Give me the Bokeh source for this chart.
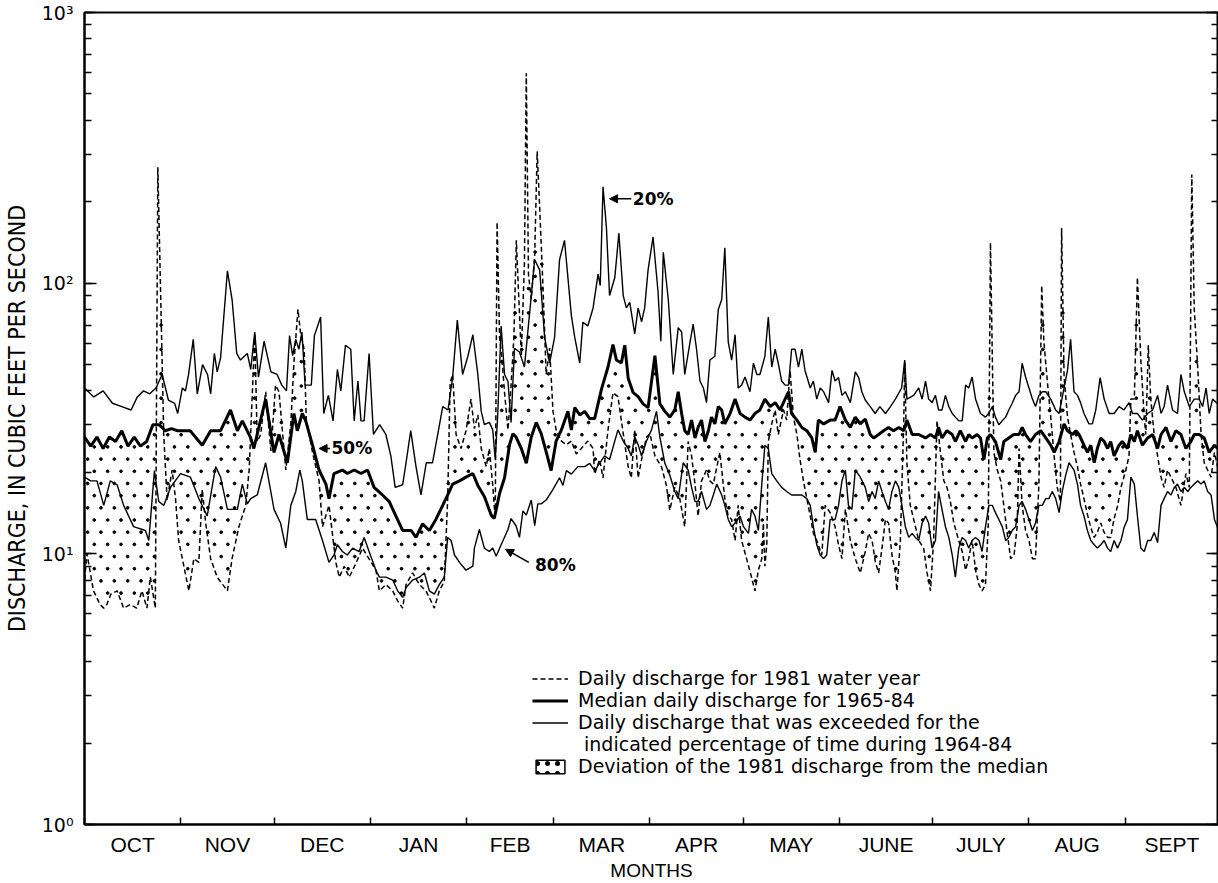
import numpy as np
from bokeh.plotting import figure
from bokeh.models import (FixedTicker, LinearAxis, LogAxis, LogTicker, Legend, LegendItem,
                          Arrow, NormalHead, Label, Range1d)
from bokeh.embed import file_html
from bokeh.resources import INLINE

# ---------------- data (day of water year, discharge in ft3/s) ----------------
MONTH_NAMES = ["OCT", "NOV", "DEC", "JAN", "FEB", "MAR", "APR", "MAY", "JUNE", "JULY", "AUG", "SEPT"]
MONTH_BOUNDS = [0, 31, 61, 92, 123, 151, 182, 212, 243, 273, 304, 335, 365]

# 20 % exceedance daily discharge, 1964-84
P20 = [(0,41),(3,38),(6,40),(9,36),(12,35),(15,34),(17,38),(19,40),(21,39),(23,41),(25,46),(27,37),(29,36),(30,33),
       (31.5,41),(32.5,40),(33.5,46),(35,62),(36.3,39),(38,50),(39.6,46),(40.6,39),(41.8,55),(42.7,47),(43.8,53),(46,111),
       (47.5,87),(49,55),(50.2,52),(52.4,55),(53.5,48),(54.8,66),(56,45),(57.8,61),(60,47),(62,46),
       (63.5,42),(65,40),(66,64),(67,54),(68,62),(69,57),(70,66),(71,42),(73,42),(74,64),(76,75),(77,33),(78.5,38.5),
       (80,31),(81.4,48),(82.5,40),(84,59),(85.7,57),(86.8,31),(88,43.5),(89,31),(90,31),(91.6,55),(93,27.6),(95,30),
       (97,27.6),(98.6,23),(100,17.6),(102.4,18),(103.5,21.7),(105,28.5),(106.7,21),(108.3,16.5),(110,21.7),(112,21.7),
       (113.7,27.6),(115.3,35),(117,34),(118.5,45),(120,73),(121.7,46),(123.4,53.7),(125,64.5),
       (126.6,46),(127.7,33.6),(128.7,30),(130.3,30.6),(131.4,28.7),(132.2,22.3),(133,32.6),(134.1,69.5),(135.2,46),
       (136.3,43.3),(137.3,30.6),(138.4,57.5),(140,55.7),(141.6,49),(143.2,76),(144.9,122),(146.5,112),(148.1,63),
       (149.7,50.7),(151.3,63),(152.9,122),(154.5,144),(156.7,76),(157.8,63),(159.4,50.7),(160.4,71.7),(162,69.5),
       (163.7,81),(165.3,108),(166,98),(166.9,227),(168,160),(169,90),(170.7,105),(172,153),(173.4,90),(174.4,81),
       (175.5,85),(177.1,65),(178.2,81),(179.3,72),(180.3,81),(181.4,112),(183,148),(184.6,93),(185.5,61),(186.3,130),
       (187.9,87),(189.5,46),(191.1,68.5),(192.2,66),(193.2,46),(194.9,60.6),(195.9,70.6),(197,57),(198.1,43.5),
       (199.2,41),(200.2,36.2),(201.3,52),(202.9,53.7),(204,80),(205.1,87),(206.1,135),(207.2,60.6),(208.3,52),
       (209.4,64.5),(210.4,41),(211.5,42),(212.6,45),(214.2,39.7),(215.3,50.6),(216.4,46),(217.4,46),(219,53.7),
       (220.1,75),(221.2,49),(222.3,57),(223.3,50.6),(224.4,43.5),(225.5,42),(226.6,42),(227.6,57),(228.7,57),
       (229.8,49),(230.9,57),(231.9,47.6),(233.6,41),(234.6,43.5),(235.7,37.3),(236.8,41),(237.9,39.7),(239.5,36.2),
       (240.6,47.6),(241.6,43.5),(242.7,44.8),(243.8,38.5),(244.9,39.7),(246.5,36.2),(248.1,47),(249.2,44.8),
       (250.2,39.7),(251.3,37),(252.9,35),(254.5,33),(256,35),(257.8,33),(259.4,35),(261,37.3),(263,41),(264,52),
       (264.7,37.3),(266.9,38.5),(268.5,41),(269.6,37.3),(270.7,43.5),(271.7,37.3),(272.8,36.2),(273.9,38.5),(274.9,34),
       (276,34),(277.1,38.5),(278.2,35),(279.3,33),(280.3,32),(281.4,31),(282.5,31),(283.6,42),(284.6,41),(285.7,45),
       (286.8,37.3),(288.4,33),(290,32),(291,33),(292.2,35),(293.2,32),(294.3,30),(295.4,31),(296.5,32),(297.5,34),
       (298.6,36),(299.7,38.5),(300.8,39.7),(301.8,50.6),(302.9,45),(304,41),(305.1,37.3),(306.1,35),(307.2,38.5),
       (308.3,39.7),(309.4,39.7),(311,37.3),(312.6,34),(313.7,33),(315.3,41),(316.4,47.6),(317.4,62),(318.5,39.7),
       (319.6,38.5),(320.6,36.2),(321.7,33),(323.3,30.2),(324.4,30.2),(325.5,34),(326.9,44.8),(328.2,37.3),(329.8,33),
       (331.4,33),(333,35),(334.6,34),(336.2,36.2),(337.3,33),(338.9,33),(340.5,31.2),(342.2,33),(343.8,34),
       (345.4,38.5),(346.5,33),(347.5,35),(348.6,42),(350.2,34),(351.8,33),(352.9,46),(354,39.7),(355.6,35),
       (357.2,37.3),(358.8,37.3),(359.9,35),(361,41),(362,33),(363.1,37.3),(364.5,36)]

# median daily discharge, 1965-84
MEDIAN = [(0,27),(2,25),(4,27),(6,24.5),(8,27),(10,26),(12,28.5),(14,25),(16,27),(18,25),(20,26),(22,30),(24,30),
          (26,28.5),(28,29),(30,28.5),(32,28.5),(34,28.5),(37.9,25.2),(40.6,28.5),(43.8,28.5),(47,34),(49.2,28.5),
          (50.8,31),(53.5,26.8),(54.5,24.5),(58.3,37.3),(61,23.7),(62.6,27.6),(65.3,21.7),(67.4,33),(68.5,28.5),
          (70.1,33),(71.2,31),(73.4,25.2),(75.5,20.4),(77.7,18.1),(78.7,16),(80.3,19.8),(83,20.4),(84.6,19.8),
          (86.8,20.4),(89,19.8),(91.1,20.4),(93.2,17.6),(95.9,16.5),(98.1,15.6),(100.2,13.8),(102.4,12.2),(105.1,12.2),
          (106.7,11.5),(108.8,12.9),(111,12.2),(113.1,13.4),(115.3,15.1),(116.9,16.5),(118.5,18.1),(120.7,18.6),
          (122.8,19.2),(125,19.8),(126.6,17.9),(128.7,16.3),(130.9,13.9),(131.9,13.5),(133.6,16.7),(135.2,19.1),
          (136.8,25.3),(137.9,27.8),(138.9,27),(140.6,24.5),(142.2,21.6),(143.8,27),(145.4,30.6),(147,27.8),
          (148.6,23.8),(150.2,20.3),(151.8,26.1),(153.5,28.7),(155.6,33.6),(156.7,28.7),(157.8,34.7),(159.4,32.6),
          (161,33.6),(162.6,31.6),(164.2,31.6),(166.4,40.6),(168.5,49),(170.1,59.3),(171.2,52),(172.8,50.7),(173.9,59),
          (175,44.5),(176.6,39.4),(178.2,38.1),(179.8,35.8),(181.4,34.7),(183.6,54),(185.2,35.8),(186.8,33.6),(188.4,32),
          (190,34),(191.1,39.7),(192.2,33),(193.2,28.5),(194.3,27.6),(195.4,31.2),(196.5,26.8),(197.5,29.3),(198.6,31.2),
          (199.7,26),(200.8,28.5),(201.8,32),(202.9,30.2),(204,35),(205.1,34),(206.1,30.2),(207.8,33),(209.4,37.3),
          (211,33),(212.6,32),(214.2,31.2),(215.8,33),(217.4,34),(219,37.3),(220.7,35),(222.3,36.2),(223.9,34),
          (225.5,37.3),(226.6,39.7),(227.6,33),(229.3,31.2),(230.9,29.3),(232.5,28.5),(234.1,26.8),(235.2,23.7),
          (236.2,31.2),(237.9,30.2),(240,31.2),(241.6,31.2),(243.2,35),(244.9,31.2),(246.5,29.3),(248.1,32),(249.7,30.2),
          (251.3,31.5),(252.9,27.6),(254,26.8),(255.6,27.6),(257.2,28.5),(258.8,29.3),(260.4,28.5),(262.1,29.3),
          (263.7,28.5),(264.7,31.2),(266.4,27.6),(268.5,27.6),(270.7,26.8),(272.3,27.6),(273.9,26.8),(274.9,29.3),
          (276,26.8),(277.6,28.5),(279.3,27.6),(280.3,26),(281.9,28.5),(283.6,26),(284.6,27.6),(285.7,26.8),(287.3,27.6),
          (288.4,26.8),(289.5,22.3),(290.6,26.8),(291.6,27.6),(293.2,26),(294.9,22.3),(295.9,26),(297.5,26.8),
          (299.1,27.6),(300.8,27.6),(301.8,29.3),(302.9,27.6),(304.5,26),(306.1,27.6),(307.8,28.5),(309.4,26.8),
          (311,25.2),(312.1,23.7),(313.7,26),(315.3,30.2),(316.4,28.5),(318,27.6),(319.1,28.5),(320.1,27.6),(321.7,25.2),
          (322.8,23.7),(323.9,25.2),(325,21.7),(326,24.5),(327.1,26.8),(328.2,26),(329.3,24.5),(330.3,26),(331.4,23),
          (333,25.2),(334,26),(335.7,24.5),(336.8,27.6),(337.9,26),(338.9,28.5),(340.5,25.2),(342.2,26.8),(343.8,27.6),
          (345.4,24.5),(346.5,27.6),(348.1,29.3),(349.7,26),(351.3,28.5),(352.9,27.6),(354.5,24.5),(356.1,26),
          (357.2,27.6),(358.8,27.6),(360.4,26.8),(362,23.7),(363.7,25.2),(364.7,24.5)]

# daily discharge, 1981 water year
WY1981 = [(0,8),(0.8,10),(2.9,7.3),(5,6.5),(6.2,6.3),(7.2,6.5),(8.5,7.1),(10.5,7.3),(12.6,6.3),(14.7,6.5),(16.8,6.3),
          (18.5,7.3),(20.1,6.3),(21.2,8.2),(22.8,6.3),(23.6,268),(25,50.6),(25.5,27.6),(26.6,15.8),(28.2,20.4),(29.3,16),
          (30.3,11.2),(33.6,7.3),(35.2,9.6),(36.8,9.3),(37.9,17.3),(39,13),(40.6,9.6),(42.7,8.2),(46,7.3),(47.5,9.6),
          (49.7,12.6),(51.9,15.1),(53,20.4),(54.8,64.5),(55.6,26),(56.7,27.6),(58.3,39.7),(60,24),(61.5,42),(62.6,39.7),
          (64.8,20.4),(66.4,30.2),(67.4,50.6),(68.7,80),(69.6,64.5),(70.7,57),(71.4,31.2),(72.3,27.6),(73.4,23.7),
          (75.5,18.6),(76.6,12.6),(78.7,15.1),(80.9,9.3),(82,8.2),(83.6,9),(85.2,8.2),(87.3,9.2),(89.5,10.5),(91.8,9.5),
          (93.8,8.7),(94.9,7.3),(97,7.7),(99.2,7.3),(100.8,6.7),(102.4,6.3),(103.5,7.7),(105.6,8.5),(107.8,7.7),
          (109.9,7.3),(111.5,6.7),(112.6,6.3),(114.2,7.3),(115.8,7.9),(116.9,16),(117.7,43),(118.5,46),(119.6,27.6),
          (121.2,24.5),(122.8,28.5),(124.4,37.3),(125.5,29),(126.6,32.6),(127.7,24.5),(129.3,21),(130.3,24.5),
          (131.4,17.9),(132.2,13.5),(132.8,168),(133.6,63),(134.3,54),(135.2,39.4),(136.3,28.7),(137.3,41.9),(138.2,63),
          (139,144),(139.5,105),(140.6,54),(141.6,119),(142.2,596),(142.9,108),(143.8,87),(144.9,127),(145.7,307),
          (146.5,191),(147.5,101.6),(148.6,46),(149.7,57.5),(150.8,33.6),(151.8,28.7),(153.5,26.1),(155.1,25.3),
          (156.7,26.1),(158.3,23.4),(159.9,24.5),(162,26.1),(163.7,24.5),(164.2,19.7),(165.8,22.3),(166.9,19.1),
          (168.5,28.7),(170.1,39.4),(171.7,38.1),(173.4,27.8),(175,21),(176,19.1),(177.1,28.7),(178.2,19.1),(179.3,22.3),
          (180.9,27),(182,27.8),(183.6,23),(185.7,21),(187.3,17.9),(188.4,14.5),(190,17.6),(191.6,16),(193.2,12.6),
          (194.3,26),(195.4,23),(196.5,18.1),(197.5,13.8),(198.6,18.6),(200.2,20.4),(201.3,18.6),(202.4,18.1),
          (204.5,23.7),(206.1,16),(207.2,13.8),(208.3,13.4),(209.4,11.2),(210.4,15.1),(211.5,11.2),(213.1,9.6),
          (214.7,8.2),(215.8,7.3),(216.9,8.7),(218,9.6),(218.5,13),(219,9),(219.6,10.8),(220.1,26),(221.2,30.2),
          (222.3,34),(223.3,27.6),(225,34),(226,31.2),(227.1,47.6),(228.2,32),(229.3,27.6),(230.3,22.3),(231.4,18.6),
          (232.5,16),(233.6,13.8),(234.6,11.9),(235.7,11.2),(237.3,9.9),(238.4,15.1),(240,14.2),(241.6,12.6),(242.7,10.8),
          (243.8,9.6),(244.9,14.6),(246.5,11.2),(248.1,9.6),(249.7,8.5),(251.3,10.2),(252.4,11.9),(253.5,11.2),
          (254.5,9.4),(255.6,8.5),(256.7,10.5),(257.8,13.4),(258.8,13),(259.9,9.9),(261,8.5),(261.5,7.3),(262.6,11.2),
          (263.7,31),(264,51),(264.7,21.7),(265.8,15.1),(266.9,13.4),(268.5,11.2),(270.1,10.5),(271.2,8.5),(272.3,7.3),
          (273.3,11.2),(274.4,31),(275.5,23.7),(276.6,18.6),(277.6,17.6),(278.7,15.6),(279.8,13),(281.4,11.2),
          (282.5,10.2),(283.6,8.7),(284.6,9.6),(285.7,11.2),(286.8,8.7),(287.9,7.7),(288.9,7.3),(290,7.7),(290.9,12.9),
          (291.6,141),(292.7,23.7),(293.8,20.4),(294.9,18.6),(295.9,15.1),(297,11.9),(298.1,9.6),(299.2,9.9),
          (300.2,12.6),(300.8,24.5),(301.8,15.1),(302.9,12.2),(304,11.2),(305.1,9.6),(306.1,9.6),(307.2,18.1),(308.1,98),
          (308.8,60.6),(309.9,43.5),(311,32),(312.1,23),(313.1,17.6),(314.1,15.6),(314.5,160),(315.3,45),(316.4,32),
          (317.4,27.6),(318.5,23.7),(319.6,21),(320.6,18.1),(321.7,16),(322.8,14),(323.9,12.5),(325,11.5),(326,12),
          (327.1,13),(328.2,12),(329.3,11.5),(330.3,11.5),(331.4,13.5),(332.5,15),(333.6,17.6),(335.2,20.4),(336.2,23),
          (336.8,37.3),(337.9,37.3),(338.9,105),(340,52),(341.1,32),(341.6,27.6),(342.4,59),(343.2,37.3),(344.3,27.6),
          (345.4,23),(346.5,19.2),(347.5,17.6),(348.6,20.4),(349.7,19.2),(351.3,17.6),(352.9,15.1),(354.5,19.8),
          (355.6,17.6),(356.4,252),(357.2,80),(358.3,49),(359.4,27.6),(360.4,21.7),(361.5,20.4),(362.6,19.2),
          (363.7,23.7),(364.7,21)]

# 80 % exceedance daily discharge, 1964-84
P80 = [(0,19.2),(2,18.6),(4,18.6),(6.2,15.1),(8.3,18.6),(10.5,18),(12.6,15.1),(15.8,12.6),(19.6,12.2),(20.7,11.2),
       (22.5,20.3),(23.9,15.6),(25.5,15.1),(27.7,17.6),(30.9,19.8),(34.1,19.2),(36.8,16),(39.5,13.8),(42.2,21),
       (43.8,19.2),(46,14.6),(49.2,14.6),(50.8,18.1),(52.4,15.3),(53.5,16),(55.6,16.5),(58.3,21.7),(61,14.6),(63.1,13),
       (64.8,10.5),(66.4,15.1),(68,17),(69.3,20.4),(70.1,18.6),(71.7,13.4),(74.4,13.4),(76.6,11.2),(78.7,9.3),(80.3,9.9),
       (81.4,10.8),(83,10.2),(84.6,9.9),(86.3,10.5),(88.4,10.2),(90,11.5),(91.6,10.2),(93.8,8.7),(94.9,8.2),(97,8.2),
       (99.2,8),(100.8,7.3),(102.4,6.9),(103.5,7.5),(105.6,8),(107.8,8.2),(109.4,8.5),(111,7.3),(112.6,7.1),(114.2,7.7),
       (115.8,8.2),(116.9,11.5),(118,11.2),(119.1,9.9),(120.7,9.3),(122.8,8.7),(125,9),(125.5,10.5),(127.1,12.3),
       (128.7,10.5),(130.3,10.2),(131.4,10.5),(132.5,9.8),(134.1,10.8),(136.3,12.3),(137.3,13.5),(138.9,12.7),
       (140,11.5),(141.1,14.4),(142.2,13.9),(143.8,15.8),(144.9,12.7),(145.9,15.3),(147,15.3),(148.6,15.8),
       (150.8,17.3),(152.9,19.1),(154,17.9),(155.1,20.3),(156.7,19.7),(158.8,21),(161,21),(162.6,21.6),(164.2,20.3),
       (165.8,21.6),(167.4,23),(169,22.3),(171.7,28.7),(173.4,26.1),(175,24.5),(176,23),(177.1,27),(178.2,25.3),
       (179.3,23),(180.9,26.1),(182.5,28.7),(184.1,33.6),(185.2,27),(186.8,21.6),(188.4,19.5),(190,17),(191.1,16),
       (192.7,21.7),(194.3,20.4),(195.4,17.6),(196.5,15.6),(197.5,15.6),(198.6,17),(200.2,14.6),(201.3,15.1),
       (202.4,16.5),(203.5,18.1),(205.1,16.5),(206.1,15.1),(207.2,13.4),(208.3,12.6),(209.4,13),(211,13.8),(212.1,12.6),
       (213.7,11.9),(214.7,14.6),(215.8,13.8),(216.9,12.2),(218,18.1),(219,25.2),(220.1,24.5),(221.2,19.8),(222.8,18.6),
       (224.4,17.6),(226,17),(227.6,16.5),(229.3,16.5),(230.9,16.5),(232.5,16),(233.6,15.1),(234.6,12.6),(235.7,10.8),
       (236.8,9.9),(237.9,9.6),(238.9,9.9),(240,13.4),(241.6,13.4),(242.7,15.1),(243.8,18.6),(244.9,20.4),(245.9,15.1),
       (247,14.6),(248.1,20.4),(249.7,19.2),(251.3,17.6),(252.4,15.6),(253.5,17),(254.5,16),(255.6,18.6),(256.7,17),
       (257.8,15.6),(258.8,14.6),(259.9,17),(261,18.6),(262.1,17.6),(263.1,15.1),(264.2,12.6),(265.3,11.5),(266.4,11.9),
       (267.4,11.5),(268.5,11.2),(269.6,13),(270.7,13.8),(271.7,13),(272.8,10.5),(273.9,11.2),(274.9,17),(276,14.6),
       (277.1,12.6),(278.2,11.5),(279.3,9.9),(280.3,8.2),(281.4,10.5),(282.5,11.5),(283.6,11.2),(284.6,10.5),
       (285.7,11.2),(286.8,11.5),(287.9,11.2),(288.9,10.2),(290,12.6),(291.1,15.1),(292.2,15.1),(293.2,14.2),
       (294.3,13.4),(295.4,12.6),(296.5,11.2),(297.5,11.5),(298.6,12.2),(299.7,12.6),(300.8,15.1),(301.8,15.6),
       (302.9,14.6),(304,13.4),(305.1,12.2),(306.1,13),(307.2,15.1),(308.3,15.1),(309.4,16),(310.4,16),(311.5,17),
       (312.6,16),(313.7,14.2),(314.7,17),(315.8,19.5),(316.9,21.7),(318.5,20.4),(319.6,18.1),(320.6,15.1),(321.7,13.8),
       (322.8,12.2),(323.9,11.2),(325,10.8),(326,10.5),(327.1,10.8),(328.2,11.2),(329.3,10.5),(330.3,10.2),(331.4,11.2),
       (332.5,10.5),(333.6,11.2),(334.6,12.5),(335.7,13.4),(336.8,19.2),(337.9,18.1),(338.9,13.8),(340,10.5),
       (341.1,10.2),(342.2,11.2),(343.2,11.2),(344.3,12),(345.4,11),(346.5,15.1),(347.5,16),(348.6,17),(349.7,16.5),
       (350.8,17.6),(351.8,18.1),(352.9,17),(354,17.6),(355.1,17),(356.1,17.6),(357.2,18.1),(358.3,18.6),(359.4,18.1),
       (360.4,18.6),(361.5,17),(362.6,16.5),(363.7,13.4),(364.7,12.5)]

Y_LABELS = {1: "10\u2070", 10: "10\u00b9", 100: "10\u00b2", 1000: "10\u00b3"}

# ---------------- figure ----------------
COND = "'Liberation Sans Narrow', 'DejaVu Sans Condensed', 'Arial Narrow', sans-serif"
ARIAL = "'Liberation Sans', Arial, sans-serif"
SANS = "'DejaVu Sans', 'Liberation Sans', sans-serif"

p = figure(width=1218, height=883, y_axis_type="log",
           x_range=Range1d(0, 365), y_range=Range1d(1, 1000),
           x_axis_location=None, y_axis_location=None,
           output_backend="svg", toolbar_location=None,
           min_border_left=84, min_border_right=0, min_border_top=12, min_border_bottom=10)
p.grid.visible = False
p.outline_line_color = "black"
p.outline_line_width = 2
p.background_fill_color = "white"
p.border_fill_color = "white"

mids = [(MONTH_BOUNDS[i] + MONTH_BOUNDS[i + 1]) / 2 for i in range(12)]
xaxis = LinearAxis(ticker=FixedTicker(ticks=mids, minor_ticks=MONTH_BOUNDS),
                   major_label_overrides={m: n for m, n in zip(mids, MONTH_NAMES)},
                   axis_label="MONTHS")
xaxis.axis_line_width = 2
xaxis.major_tick_line_color = None
xaxis.major_tick_in = 0
xaxis.major_tick_out = 0
xaxis.minor_tick_in = 7
xaxis.minor_tick_out = 0
xaxis.minor_tick_line_width = 1.5
xaxis.major_label_text_font = ARIAL
xaxis.major_label_text_font_size = "21px"
xaxis.major_label_text_color = "black"
xaxis.major_label_standoff = 8
xaxis.axis_label_text_font = ARIAL
xaxis.axis_label_text_font_size = "19px"
xaxis.axis_label_text_font_style = "normal"
xaxis.axis_label_text_color = "black"
xaxis.axis_label_standoff = 1
p.add_layout(xaxis, "below")

yaxis = LogAxis(ticker=LogTicker(num_minor_ticks=10), major_label_overrides=Y_LABELS,
                axis_label="DISCHARGE, IN CUBIC FEET PER SECOND")
yaxis.axis_line_width = 2
yaxis.major_tick_in = 12
yaxis.major_tick_out = 0
yaxis.major_tick_line_width = 1.5
yaxis.minor_tick_in = 7
yaxis.minor_tick_out = 0
yaxis.minor_tick_line_width = 1.5
yaxis.major_label_text_font = SANS
yaxis.major_label_text_font_size = "19px"
yaxis.major_label_text_color = "black"
yaxis.major_label_standoff = 11
yaxis.axis_label_text_font = COND
yaxis.axis_label_text_font_size = "23px"
yaxis.axis_label_text_font_style = "normal"
yaxis.axis_label_text_color = "black"
yaxis.axis_label_standoff = 9
p.add_layout(yaxis, "left")

raxis = LogAxis(ticker=LogTicker(num_minor_ticks=10))
raxis.axis_line_width = 2
raxis.major_tick_in = 12
raxis.major_tick_out = 0
raxis.minor_tick_in = 7
raxis.minor_tick_out = 0
raxis.major_tick_line_width = 1.5
raxis.minor_tick_line_width = 1.5
raxis.major_label_text_font_size = "1px"
raxis.major_label_text_color = None
raxis.major_label_standoff = 0
p.add_layout(raxis, "right")

def split(pairs):
    return [a for a, _ in pairs], [b for _, b in pairs]

d81, v81 = split(WY1981)
dmed, vmed = split(MEDIAN)
d20, v20 = split(P20)
d80, v80 = split(P80)

# dotted texture marking the deviation of the 1981 discharge from the median
l81 = np.log10(v81)
lmed = np.log10(vmed)
dot_x, dot_y = [], []
col_step, row_step = 4.3, 0.045
for j in range(int(3 / row_step) + 1):
    ly = j * row_step
    xs = np.arange((j % 2) * col_step / 2 + 1.0, 365, col_step)
    a = np.interp(xs, d81, l81)
    b = np.interp(xs, dmed, lmed)
    lo = np.minimum(a, b) + 0.012
    hi = np.maximum(a, b) - 0.012
    keep = (ly > lo) & (ly < hi)
    dot_x.extend(xs[keep].tolist())
    dot_y.extend((10 ** ly * np.ones(int(keep.sum()))).tolist())
p.scatter(dot_x, dot_y, size=2.7, color="black", marker="circle")

r20 = p.line(d20, v20, line_color="black", line_width=1.4)
p.line(d80, v80, line_color="black", line_width=1.4)
rmed = p.line(dmed, vmed, line_color="black", line_width=3)
r81 = p.line(d81, v81, line_color="black", line_width=1.5, line_dash="5 3")

rdummy = p.line([0], [1], line_alpha=0)
rbox = p.quad(left=[0], right=[0], top=[1], bottom=[1], fill_color=None, line_color="black",
              line_width=1.5, hatch_pattern="dot", hatch_color="black", hatch_scale=10, hatch_weight=0.4)

legend = Legend(items=[
    LegendItem(label="Daily discharge for 1981 water year", renderers=[r81]),
    LegendItem(label="Median daily discharge for 1965-84", renderers=[rmed]),
    LegendItem(label="Daily discharge that was exceeded for the", renderers=[r20]),
    LegendItem(label=" indicated percentage of time during 1964-84", renderers=[rdummy]),
    LegendItem(label="Deviation of the 1981 discharge from the median", renderers=[rbox]),
], location=(448, 47))
legend.border_line_color = None
legend.background_fill_alpha = 0
legend.label_text_font = SANS
legend.label_text_font_size = "19px"
legend.label_text_color = "black"
legend.glyph_width = 36
legend.glyph_height = 17
legend.label_height = 17
legend.label_standoff = 10
legend.spacing = -2
legend.padding = 0
legend.margin = 0
p.add_layout(legend)

# percentage annotations
p.add_layout(Arrow(end=NormalHead(size=8, fill_color="black", line_color="black"),
                   x_start=176, y_start=205, x_end=169, y_end=205, line_width=1.5))
p.add_layout(Label(x=176.5, y=205, text="20%", text_font=SANS, text_font_size="17px",
                   text_font_style="bold", text_baseline="middle", text_color="black"))
p.add_layout(Arrow(end=NormalHead(size=8, fill_color="black", line_color="black"),
                   x_start=79, y_start=24.5, x_end=75.5, y_end=24.5, line_width=1.5))
p.add_layout(Label(x=79.5, y=24.5, text="50%", text_font=SANS, text_font_size="17px",
                   text_font_style="bold", text_baseline="middle", text_color="black"))
p.add_layout(Arrow(end=NormalHead(size=8, fill_color="black", line_color="black"),
                   x_start=143, y_start=9.3, x_end=135.5, y_end=10.4, line_width=1.5))
p.add_layout(Label(x=145, y=9.1, text="80%", text_font=SANS, text_font_size="17px",
                   text_font_style="bold", text_baseline="middle", text_color="black"))

open("out.html", "w").write(file_html(p, INLINE))
